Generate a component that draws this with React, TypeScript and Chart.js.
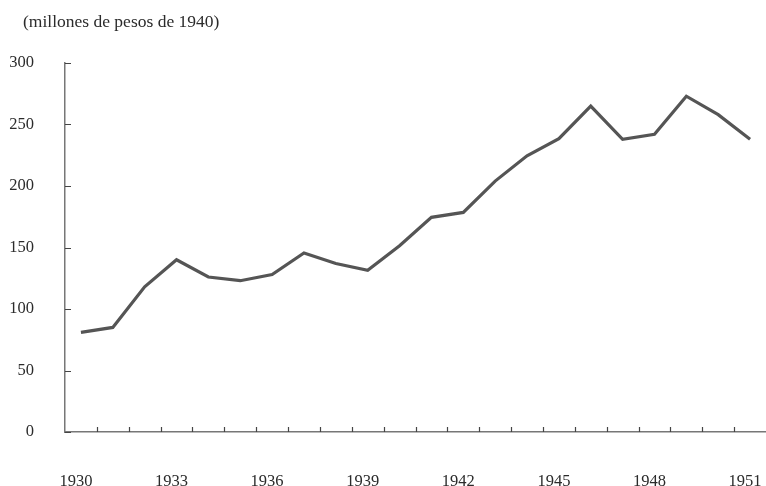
import React, { useEffect, useRef } from "react";
import { Chart, registerables } from "chart.js";

Chart.register(...registerables);

const years: string[] = [
  "1930", "1931", "1932", "1933", "1934", "1935", "1936", "1937", "1938", "1939", "1940",
  "1941", "1942", "1943", "1944", "1945", "1946", "1947", "1948", "1949", "1950", "1951",
];
const values: number[] = [
  81, 85, 118, 140, 126, 123, 128, 145.5, 137, 131.5, 151.5,
  174.5, 178.5, 204, 224.5, 238.5, 265, 238, 242, 273, 258, 238,
];
const yTicks: number[] = [0, 50, 100, 150, 200, 250, 300];
const unitLabel = "(millones de pesos de 1940)";

const FONT = "'Liberation Serif', 'DejaVu Serif', serif";

const innerTicks = {
  id: "innerTicks",
  afterDraw(chart: any) {
    const { ctx, chartArea, scales } = chart;
    const x = scales.x;
    const y = scales.y;
    ctx.save();
    ctx.strokeStyle = "#444";
    ctx.lineWidth = 1.2;
    ctx.beginPath();
    yTicks.forEach((v) => {
      const py = Math.round(y.getPixelForValue(v)) + 0.5;
      ctx.moveTo(chartArea.left, py);
      ctx.lineTo(chartArea.left + 6, py);
    });
    for (let i = 0; i < years.length - 1; i++) {
      const px = Math.round((x.getPixelForValue(i) + x.getPixelForValue(i + 1)) / 2) + 0.5;
      ctx.moveTo(px, chartArea.bottom);
      ctx.lineTo(px, chartArea.bottom - 5);
    }
    ctx.stroke();
    ctx.fillStyle = "#2b2b2b";
    ctx.font = `17.5px ${FONT}`;
    ctx.textAlign = "left";
    ctx.textBaseline = "middle";
    ctx.fillText(unitLabel, chartArea.left - 42, 22);
    ctx.restore();
  },
};

export default function App() {
  const ref = useRef<HTMLCanvasElement | null>(null);
  useEffect(() => {
    if (!ref.current) return;
    const chart = new Chart(ref.current, {
      type: "line",
      data: {
        labels: years,
        datasets: [
          {
            data: values,
            borderColor: "#555555",
            borderWidth: 3.2,
            pointRadius: 0,
            tension: 0,
            fill: false,
          },
        ],
      },
      options: {
        animation: false,
        responsive: true,
        maintainAspectRatio: false,
        layout: { padding: { top: 63, left: 0, right: 0, bottom: 0 } },
        plugins: {
          legend: { display: false },
          tooltip: { enabled: false },
          title: { display: false },
        },
        scales: {
          x: {
            type: "category",
            offset: true,
            grid: { display: true, drawOnChartArea: false, drawTicks: false, color: "#777" },
            border: { display: true, color: "#777", width: 1.5 },
            ticks: {
              autoSkip: false,
              maxRotation: 0,
              padding: 40,
              labelOffset: -5,
              color: "#2b2b2b",
              font: { family: FONT, size: 16.5 },
              callback: (_v: any, i: number) => (i % 3 === 0 ? years[i] : ""),
            },
            afterFit: (s: any) => {
              s.height = 54;
              s.paddingLeft = 0;
              s.paddingRight = 0;
            },
          },
          y: {
            min: 0,
            max: 300,
            grid: { display: false, drawTicks: false },
            border: { display: true, color: "#777", width: 1.5 },
            afterBuildTicks: (s: any) => {
              s.ticks = yTicks.map((v) => ({ value: v }));
            },
            ticks: {
              padding: 31,
              color: "#2b2b2b",
              font: { family: FONT, size: 16.5 },
            },
            afterFit: (s: any) => {
              s.width = 65;
            },
          },
        },
      },
      plugins: [innerTicks],
    });
    return () => chart.destroy();
  }, []);
  return (
    <div style={{ position: "absolute", left: 0, top: 0, width: 766, height: 486, background: "#fff" }}>
      <canvas ref={ref} />
    </div>
  );
}
